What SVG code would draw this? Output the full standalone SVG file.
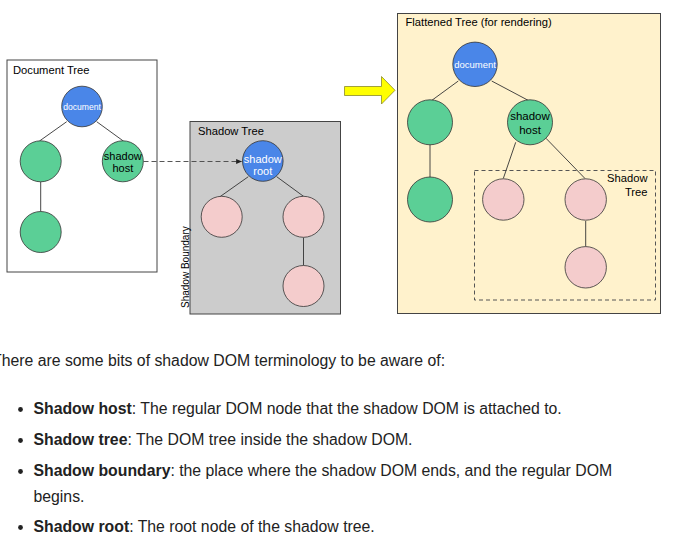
<svg xmlns="http://www.w3.org/2000/svg" width="679" height="546" viewBox="0 0 679 546">
<style>
.t{font-family:"Liberation Sans",Arial,sans-serif;fill:#000}
.title{font-size:11.2px}
.lbl{font-size:11px;text-anchor:middle}
.wl{font-size:11px;text-anchor:middle;fill:#fff}
.doc{font-size:8.6px;text-anchor:middle;fill:#fff}
.blue{fill:#4a86e8;stroke:#333;stroke-width:0.8}
.green{fill:#5bcf96;stroke:#333;stroke-width:0.8}
.pink{fill:#f4cccc;stroke:#333;stroke-width:0.8}
.edge{stroke:#333;stroke-width:0.9;fill:none}
.body{font-family:"Liberation Sans",Arial,sans-serif;font-size:15.8px;fill:#222}
.b{font-weight:bold}
</style>
<defs>
<marker id="ah" viewBox="0 0 10 10" refX="9" refY="5" markerWidth="6" markerHeight="6" orient="auto" markerUnits="userSpaceOnUse">
<path d="M0,1 L10,5 L0,9 z" fill="#222"/>
</marker>
</defs>
<rect width="679" height="546" fill="#fff"/>

<g id="document-tree">
<rect x="7" y="60" width="150" height="212" fill="#fff" stroke="#444" stroke-width="1"/>
<text class="t title" x="13" y="73.5">Document Tree</text>
</g>
<g id="shadow-tree">
<rect x="190" y="121.5" width="150.5" height="192.5" fill="#cccccc" stroke="#444" stroke-width="1"/>
<text class="t title" x="198" y="135">Shadow Tree</text>
<text class="t" font-size="10" transform="translate(188.5,308) rotate(-90)">Shadow Boundary</text>
</g>
<g id="flattened-tree">
<rect x="397.5" y="13.5" width="263" height="300" fill="#fff2cc" stroke="#444" stroke-width="1"/>
<text class="t title" x="405.5" y="25.8">Flattened Tree (for rendering)</text>
<rect x="474.5" y="170.5" width="181" height="129.5" fill="none" stroke="#555" stroke-width="1" stroke-dasharray="4,3"/>
<text class="t title" text-anchor="end" x="647.5" y="182.3">Shadow</text>
<text class="t title" text-anchor="end" x="647.5" y="195.8">Tree</text>
</g>

<g id="connectors">
<line class="edge" x1="66.7" y1="121.7" x2="39.5" y2="141"/>
<line class="edge" x1="96.7" y1="121.7" x2="123.3" y2="141"/>
<line class="edge" x1="40.7" y1="181.7" x2="40.7" y2="211.7"/>
<line x1="143.5" y1="161.5" x2="241.5" y2="161.5" stroke="#444" stroke-width="0.9" stroke-dasharray="5,3" marker-end="url(#ah)"/>
<line class="edge" x1="248.3" y1="176.7" x2="220" y2="196.7"/>
<line class="edge" x1="276.7" y1="176.7" x2="304" y2="196.7"/>
<line class="edge" x1="303.5" y1="237.5" x2="303.5" y2="265.5"/>
<line class="edge" x1="458.3" y1="81" x2="430" y2="101.7"/>
<line class="edge" x1="491.7" y1="81" x2="530.7" y2="101.7"/>
<line class="edge" x1="430" y1="144.5" x2="430" y2="178.3"/>
<line class="edge" x1="515.7" y1="142.3" x2="503.3" y2="178.5"/>
<line class="edge" x1="546" y1="138.3" x2="585" y2="178.5"/>
<line class="edge" x1="585.7" y1="221" x2="585.7" y2="246.7"/>
<path id="yellow-arrow" d="M344.5,86.5 H381.5 V76.5 L395,90.3 L381.5,104 V95.5 H344.5 Z" fill="#ffff00" stroke="#8a8a2a" stroke-width="0.8"/>
</g>

<g id="d-document"><circle class="blue" cx="82" cy="106.5" r="20.3"/><text class="t doc" x="82" y="109.8">document</text></g>
<g id="d-left"><circle class="green" cx="40.7" cy="161.3" r="20.5"/></g>
<g id="d-host"><circle class="green" cx="122.8" cy="161.3" r="20.5"/><text class="t lbl" x="122.8" y="159.5">shadow</text><text class="t lbl" x="122.8" y="172">host</text></g>
<g id="d-bottom"><circle class="green" cx="40.7" cy="232" r="20.5"/></g>

<g id="s-root"><circle class="blue" cx="262.8" cy="161" r="20.3"/><text class="t wl" x="262.8" y="162.8">shadow</text><text class="t wl" x="262.8" y="175.3">root</text></g>
<g id="s-left"><circle class="pink" cx="221.7" cy="216.8" r="20.5"/></g>
<g id="s-right"><circle class="pink" cx="303.5" cy="216.8" r="20.5"/></g>
<g id="s-bottom"><circle class="pink" cx="303.5" cy="286" r="20.5"/></g>

<g id="f-document"><circle class="blue" cx="475" cy="64.3" r="22.2"/><text class="t doc" style="font-size:9.5px" x="475" y="67.8">document</text></g>
<g id="f-left"><circle class="green" cx="430" cy="122.3" r="22.5"/></g>
<g id="f-host"><circle class="green" cx="530" cy="122.3" r="22.5"/><text class="t lbl" style="font-size:11.5px" x="530" y="119.8">shadow</text><text class="t lbl" style="font-size:11.5px" x="530" y="133.8">host</text></g>
<g id="f-bottom"><circle class="green" cx="430" cy="199.5" r="22.5"/></g>
<g id="f-pink-left"><circle class="pink" cx="503.3" cy="199.5" r="20.7"/></g>
<g id="f-pink-right"><circle class="pink" cx="585.7" cy="199.5" r="20.7"/></g>
<g id="f-pink-bottom"><circle class="pink" cx="585.7" cy="267.3" r="20.7"/></g>

<g id="text-body">
<text class="body" x="-8" y="366">There are some bits of shadow DOM terminology to be aware of:</text>
<circle cx="20.5" cy="409.5" r="2.4" fill="#222"/>
<text class="body" x="33.5" y="414"><tspan class="b">Shadow host</tspan>: The regular DOM node that the shadow DOM is attached to.</text>
<circle cx="20.5" cy="440.5" r="2.4" fill="#222"/>
<text class="body" x="33.5" y="445"><tspan class="b">Shadow tree</tspan>: The DOM tree inside the shadow DOM.</text>
<circle cx="20.5" cy="471.5" r="2.4" fill="#222"/>
<text class="body" x="33.5" y="476"><tspan class="b">Shadow boundary</tspan>: the place where the shadow DOM ends, and the regular DOM</text>
<text class="body" x="33.5" y="501.5">begins.</text>
<circle cx="20.5" cy="527.5" r="2.4" fill="#222"/>
<text class="body" x="33.5" y="532"><tspan class="b">Shadow root</tspan>: The root node of the shadow tree.</text>
</g>
</svg>
